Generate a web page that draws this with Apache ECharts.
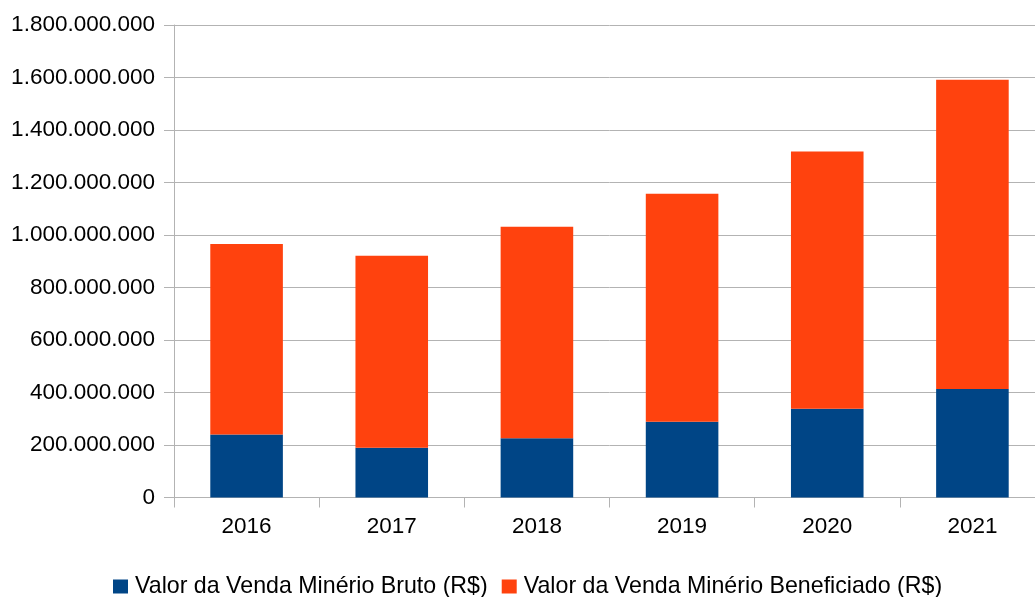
<!DOCTYPE html>
<html>
<head>
<meta charset="utf-8">
<script src="https://cdn.jsdelivr.net/npm/echarts@6/dist/echarts.min.js"></script>
<style>
html,body{margin:0;padding:0;background:#fff;overflow:hidden;width:1035px;height:597px;}
#chart{width:1046px;height:597px;}
</style>
</head>
<body>
<div id="chart"></div>
<script>
const categories = ['2016', '2017', '2018', '2019', '2020', '2021'];
const seriesNames = ['Valor da Venda Minério Bruto (R$)', 'Valor da Venda Minério Beneficiado (R$)'];
const bruto = [240000000, 190000000, 226000000, 289000000, 338000000, 413000000];
const beneficiado = [726000000, 731000000, 805000000, 868000000, 980000000, 1178000000];

function fmt(v) {
  return String(v).replace(/\B(?=(\d{3})+(?!\d))/g, '.');
}

const chart = echarts.init(document.getElementById('chart'), null, {renderer: 'canvas'});
const font = 'Liberation Sans, Arial, sans-serif';
chart.setOption({
  animation: false,
  textStyle: {fontFamily: font},
  grid: {left: 174, width: 871, top: 25, height: 472.5, containLabel: false},
  legend: {
    top: 575,
    left: 113,
    itemWidth: 15,
    itemHeight: 14,
    itemGap: 14,
    icon: 'rect',
    padding: 0,
    textStyle: {fontSize: 23.2, color: '#000', fontFamily: font, padding: [0, 0, 0, 2]},
    data: seriesNames
  },
  xAxis: {
    type: 'category',
    data: categories,
    axisLine: {lineStyle: {color: '#b3b3b3'}},
    axisTick: {show: true, length: 10, lineStyle: {color: '#b3b3b3'}},
    axisLabel: {fontSize: 22.5, color: '#000', margin: 18, fontFamily: font}
  },
  yAxis: {
    type: 'value',
    min: 0,
    max: 1800000000,
    interval: 200000000,
    axisLine: {show: true, lineStyle: {color: '#b3b3b3'}},
    axisTick: {show: true, length: 10, lineStyle: {color: '#b3b3b3'}},
    splitLine: {lineStyle: {color: '#b3b3b3'}},
    axisLabel: {fontSize: 22.5, color: '#000', margin: 19, formatter: fmt, fontFamily: font}
  },
  series: [
    {name: seriesNames[0], type: 'bar', stack: 'total', data: bruto, barWidth: '50%', itemStyle: {color: '#004586'}},
    {name: seriesNames[1], type: 'bar', stack: 'total', data: beneficiado, barWidth: '50%', itemStyle: {color: '#ff420e'}}
  ]
});
</script>
</body>
</html>
